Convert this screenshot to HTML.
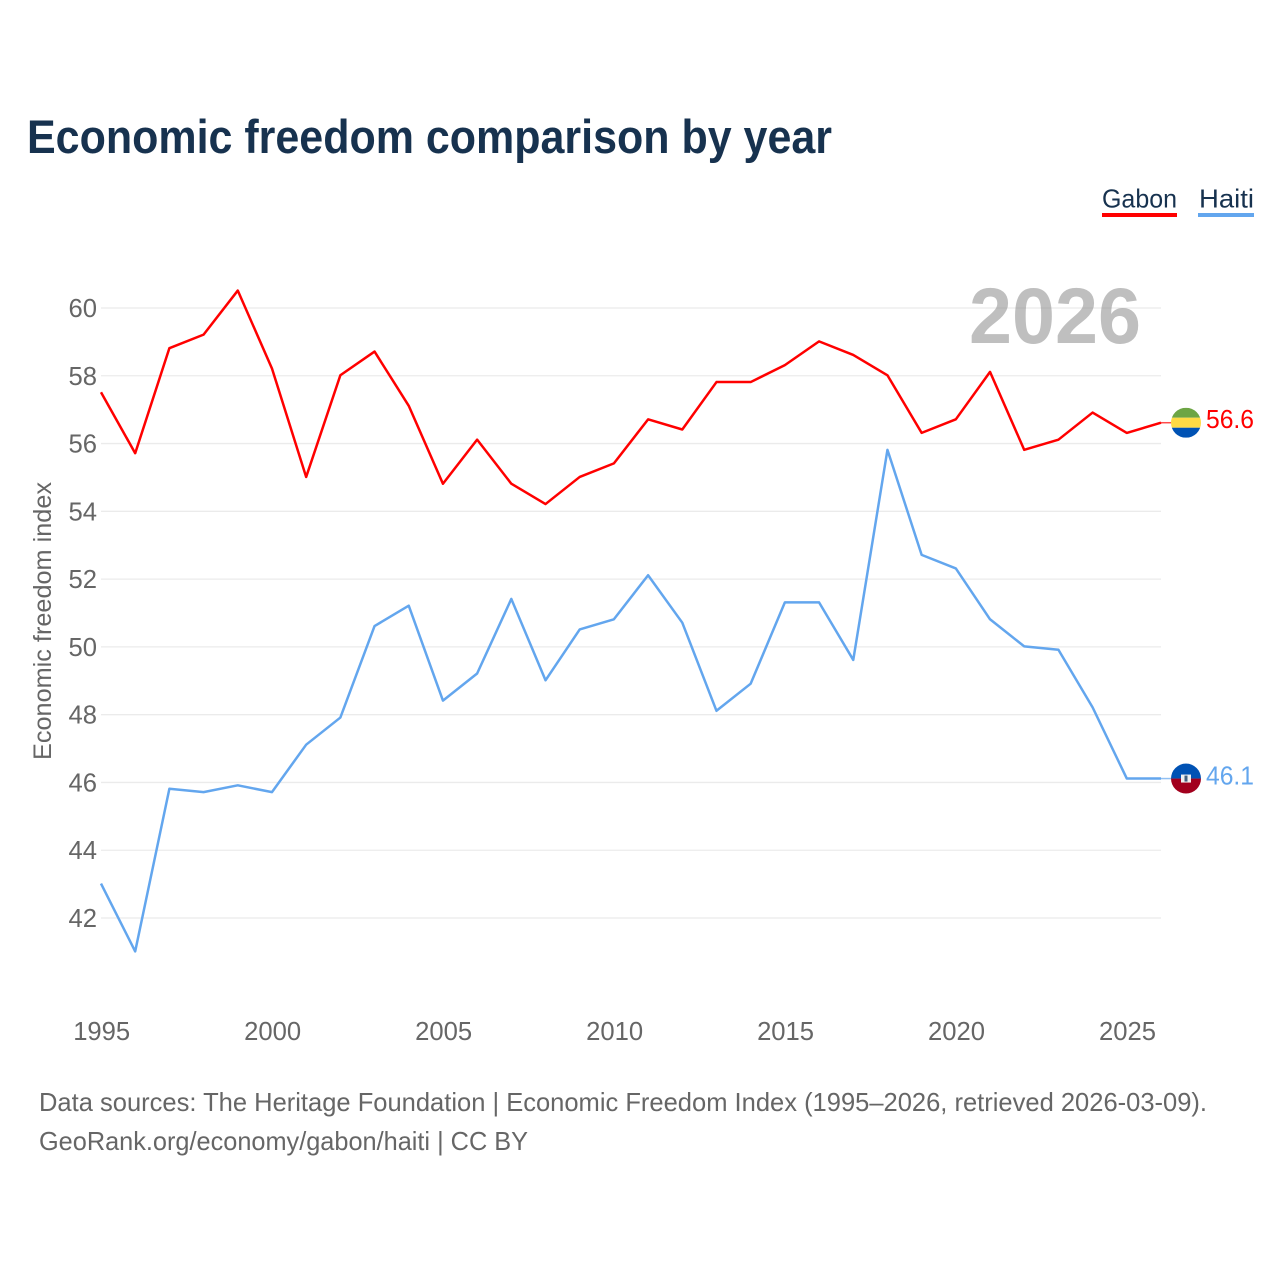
<!DOCTYPE html>
<html lang="en">
<head>
<meta charset="utf-8">
<title>Economic freedom comparison by year</title>
<style>
html,body{margin:0;padding:0;background:#fff;width:1280px;height:1280px;overflow:hidden}
svg{display:block;font-family:"Liberation Sans",sans-serif}
</style>
</head>
<body>
<svg id="chart" width="1280" height="1280" viewBox="0 0 1280 1280" xmlns="http://www.w3.org/2000/svg">
  <defs>
    <clipPath id="flag-clip-gabon"><circle id="clip-gabon" cx="1186" cy="423" r="15"/></clipPath>
    <clipPath id="flag-clip-haiti"><circle id="clip-haiti" cx="1186" cy="778" r="15"/></clipPath>
  </defs>
  <rect width="1280" height="1280" fill="#ffffff"/>
  <text x="27" y="153" font-size="47" font-weight="700" fill="#17324f" textLength="805" lengthAdjust="spacingAndGlyphs">Economic freedom comparison by year</text>

  <g>
    <g>
      <text x="1102" y="207.5" font-size="26" fill="#17324f" textLength="75" lengthAdjust="spacingAndGlyphs">Gabon</text>
      <rect x="1102" y="213" width="75" height="4" fill="#ff0000"/>
    </g>
    <g>
      <text x="1199" y="207.5" font-size="26" fill="#17324f" textLength="55" lengthAdjust="spacingAndGlyphs">Haiti</text>
      <rect x="1198" y="213" width="56" height="4" fill="#63a6ee"/>
    </g>
  </g>

  <g id="grid"></g>
  <g id="y-ticks"></g>
  <g id="x-ticks"></g>

  <text x="969" y="343" font-size="79" font-weight="700" fill="#808080" fill-opacity="0.5" textLength="172" lengthAdjust="spacingAndGlyphs">2026</text>

  <text transform="translate(51,621) rotate(-90)" text-anchor="middle" font-size="25" fill="#666666" textLength="278" lengthAdjust="spacingAndGlyphs">Economic freedom index</text>

  <g id="series"></g>

  <g id="flag-gabon" clip-path="url(#flag-clip-gabon)">
    <rect id="gabon-green" x="1171" y="408" width="30" height="10" fill="#6da544"/>
    <rect id="gabon-yellow" x="1171" y="418" width="30" height="10" fill="#ffda44"/>
    <rect id="gabon-blue" x="1171" y="428" width="30" height="10" fill="#0052b4"/>
  </g>
  <g id="flag-haiti" clip-path="url(#flag-clip-haiti)">
    <rect id="haiti-blue" x="1171" y="763" width="30" height="15" fill="#0052b4"/>
    <rect id="haiti-red" x="1171" y="778" width="30" height="15" fill="#a2001d"/>
    <rect id="haiti-panel" x="1181" y="774" width="10" height="8" fill="#f0f0f0"/>
    <rect id="haiti-emblem" x="1184.5" y="775" width="3" height="6" fill="#41607f"/>
  </g>

  <text id="value-gabon" x="1206" y="428" font-size="26" fill="#ff0000" textLength="48" lengthAdjust="spacingAndGlyphs">56.6</text>
  <text id="value-haiti" x="1206" y="784" font-size="26" fill="#63a6ee" textLength="48" lengthAdjust="spacingAndGlyphs">46.1</text>

  <g font-size="26" fill="#666666">
    <text x="39" y="1111" textLength="1168" lengthAdjust="spacingAndGlyphs">Data sources: The Heritage Foundation | Economic Freedom Index (1995–2026, retrieved 2026-03-09).</text>
    <text x="39" y="1150" textLength="489" lengthAdjust="spacingAndGlyphs">GeoRank.org/economy/gabon/haiti | CC BY</text>
  </g>
</svg>
<script>
const years = [1995,1996,1997,1998,1999,2000,2001,2002,2003,2004,2005,2006,2007,2008,2009,2010,2011,2012,2013,2014,2015,2016,2017,2018,2019,2020,2021,2022,2023,2024,2025,2026];
const gabonValues = [57.5,55.7,58.8,59.2,60.5,58.2,55,58,58.7,57.1,54.8,56.1,54.8,54.2,55,55.4,56.7,56.4,57.8,57.8,58.3,59,58.6,58,56.3,56.7,58.1,55.8,56.1,56.9,56.3,56.6];
const haitiValues = [43,41,45.8,45.7,45.9,45.7,47.1,47.9,50.6,51.2,48.4,49.2,51.4,49,50.5,50.8,52.1,50.7,48.1,48.9,51.3,51.3,49.6,55.8,52.7,52.3,50.8,50,49.9,48.2,46.1,46.1];
const yTickLabels = [42,44,46,48,50,52,54,56,58,60];
const xTickLabels = [1995,2000,2005,2010,2015,2020,2025];

const NS = 'http://www.w3.org/2000/svg';
function xScale(year){ return 101 + (year - 1995) * (1161 - 101) / 31; }
function yScale(value){ return 308 + (60 - value) * (918 - 308) / 18; }
function make(tag, attrs, parent){
  const el = document.createElementNS(NS, tag);
  for (const k in attrs) el.setAttribute(k, attrs[k]);
  parent.appendChild(el);
  return el;
}

const gridG = document.getElementById('grid');
const yG = document.getElementById('y-ticks');
const xG = document.getElementById('x-ticks');
const seriesG = document.getElementById('series');

yTickLabels.forEach(function(v){
  const line = make('line', {x1:101, x2:1161, y1:yScale(v), y2:yScale(v), stroke:'#ebebeb', 'stroke-width':1.3}, gridG);
  
  
  const t = make('text', {x:97, y:yScale(v)+9, 'text-anchor':'end', 'font-size':26, fill:'#666666', textLength:28.5, lengthAdjust:'spacingAndGlyphs'}, yG);
  t.textContent = v;
  
  
});

xTickLabels.forEach(function(y){
  const t = make('text', {x:xScale(y)+0.7, y:1040, 'text-anchor':'middle', 'font-size':26, fill:'#666666', textLength:57, lengthAdjust:'spacingAndGlyphs'}, xG);
  t.textContent = y;
  
  
});

function drawSeries(values, color, key){
  const pts = values.map(function(v, i){ return xScale(years[i]).toFixed(2) + ',' + (yScale(v) - 0.5).toFixed(2); }).join(' ');
  const line = make('polyline', {points:pts, fill:'none', stroke:color, 'stroke-width':2.5, 'stroke-linejoin':'round'}, seriesG);
  
  
  const lastY = yScale(values[values.length - 1]) - 0.5;
  const leader = make('line', {x1:1161, x2:1171, y1:lastY, y2:lastY, stroke:color, 'stroke-width':1.5, opacity:0.7}, seriesG);
  
  
  return lastY;
}

const gabonEnd = drawSeries(gabonValues, '#ff0000', 'gabon');
const haitiEnd = drawSeries(haitiValues, '#63a6ee', 'haiti');

function placeFlag(prefix, y, parts){
  document.getElementById('clip-' + prefix).setAttribute('cy', y);
  parts.forEach(function(p){
    document.getElementById(p[0]).setAttribute('y', y + p[1]);
  });
}
placeFlag('gabon', gabonEnd, [['gabon-green',-15],['gabon-yellow',-5],['gabon-blue',5]]);
placeFlag('haiti', haitiEnd, [['haiti-blue',-15],['haiti-red',0],['haiti-panel',-4],['haiti-emblem',-3]]);
document.getElementById('value-gabon').setAttribute('y', gabonEnd + 5.5);
document.getElementById('value-haiti').setAttribute('y', haitiEnd + 6);
document.getElementById('value-gabon').textContent = gabonValues[gabonValues.length - 1].toFixed(1);
document.getElementById('value-haiti').textContent = haitiValues[haitiValues.length - 1].toFixed(1);
</script>
</body>
</html>
